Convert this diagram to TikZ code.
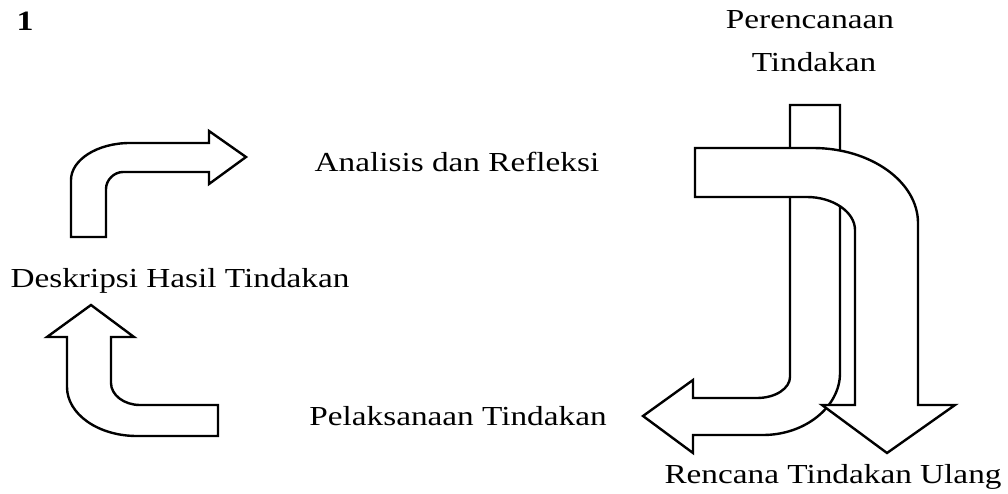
\documentclass[tikz,border=0pt]{standalone}
\usepackage{fontspec}
\setmainfont{Liberation Serif}[FakeStretch=1.21]

\begin{document}
\begin{tikzpicture}[x=1pt,y=-1pt,
  block arrow/.style={draw,line width=2.4pt,fill=white,line join=miter},
  label node/.style={inner sep=0pt,anchor=base,font=\fontsize{27.5}{30}\selectfont}]

\useasboundingbox (0,0) rectangle (1008,494);

\node[label node,font=\fontsize{28}{30}\selectfont\bfseries] (nr) at (25,31) {1};

% upper left arrow
\path[block arrow] (71,237) -- (71,180)
  .. controls (71,160) and (97,143) .. (130,143)
  -- (209,143) -- (209,131) -- (246,157) -- (209,184) -- (209,172)
  -- (123,172) .. controls (114,172) and (106,180) .. (106,189)
  -- (106,237) -- cycle;

% lower left arrow
\path[block arrow] (91,305) -- (134,337) -- (111,337) -- (111,383)
  .. controls (111,395) and (124,405) .. (140,405)
  -- (218,405) -- (218,436) -- (137,436)
  .. controls (98,436) and (67,414) .. (67,387)
  -- (67,337) -- (47,337) -- cycle;

% J arrow to the left
\path[block arrow] (790,105) -- (840,105) -- (840,373)
  .. controls (840,407) and (805,435) .. (763,435)
  -- (693,435) -- (693,453) -- (643,416) -- (693,380) -- (693,398)
  -- (757,398) .. controls (776,398) and (790,388) .. (790,377)
  -- cycle;

% hook arrow downwards
\path[block arrow] (695,148) -- (813,148)
  .. controls (871,148) and (918,182) .. (918,223)
  -- (918,405) -- (955,405) -- (887,453) -- (822,405) -- (855,405)
  -- (855,230) .. controls (855,212) and (833,197) .. (807,197)
  -- (695,197) -- cycle;

\node[label node] (n0) at (810,29) {Perencanaan};
\node[label node] (n1) at (814,72) {Tindakan};
\node[label node] (n2) at (457,172) {Analisis dan Refleksi};
\node[label node] (n3) at (180,287) {Deskripsi Hasil Tindakan};
\node[label node] (n4) at (458,425) {Pelaksanaan Tindakan};
\node[label node] (n5) at (833,483) {Rencana Tindakan Ulang};

\end{tikzpicture}
\end{document}
